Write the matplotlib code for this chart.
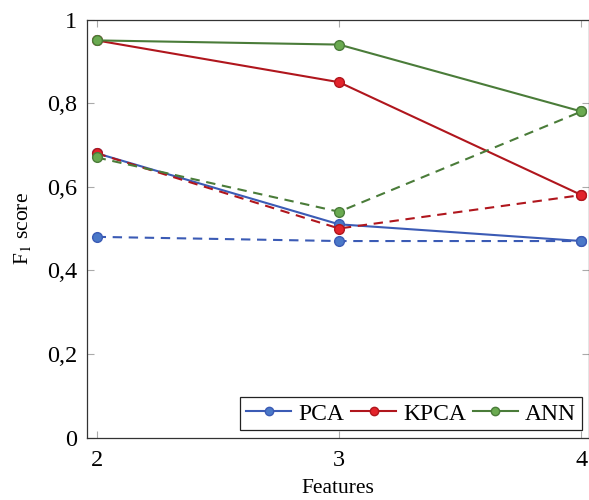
import numpy as np
import matplotlib.pyplot as plt
from matplotlib.ticker import FuncFormatter

features = [2, 3, 4]
pca_solid = [0.68, 0.51, 0.47]
pca_dashed = [0.48, 0.47, 0.47]
kpca_solid = [0.95, 0.85, 0.58]
kpca_dashed = [0.68, 0.50, 0.58]
ann_solid = [0.95, 0.94, 0.78]
ann_dashed = [0.67, 0.54, 0.78]

plt.rcParams['font.family'] = ['Liberation Serif', 'DejaVu Serif']
plt.rcParams['mathtext.fontset'] = 'stix'

# line colour, marker fill
blue = ('#3b5bb5', '#4a78c8')
red = ('#b0161d', '#e3232b')
green = ('#4a7c39', '#6aaa50')

fig = plt.figure(figsize=(5.89, 5.0), dpi=100)
ax = fig.add_axes([0.148, 0.125, 0.852, 0.836])

dash = (0, (4.5, 3.2))
for vals, (lc, mf), lab in [(pca_solid, blue, 'PCA'), (kpca_solid, red, 'KPCA'), (ann_solid, green, 'ANN')]:
    ax.plot(features, vals, color=lc, lw=1.5, marker='o', ms=7, mfc=mf, mec=lc, mew=1.0, label=lab)
for vals, (lc, mf) in [(pca_dashed, blue), (kpca_dashed, red), (ann_dashed, green)]:
    ax.plot(features, vals, color=lc, lw=1.5, ls=dash, marker='o', ms=7, mfc=mf, mec=lc, mew=1.0)

ax.set_xlim(1.961, 4.031)
ax.set_ylim(0, 1)
ax.set_xticks(features)
ax.set_yticks([0, 0.2, 0.4, 0.6, 0.8, 1.0])
ax.yaxis.set_major_formatter(FuncFormatter(lambda v, p: '0' if v == 0 else ('1' if v == 1 else ('%.1f' % v).replace('.', ','))))
ax.tick_params(direction='in', length=5, color='#aaaaaa', width=0.8, top=True, right=True, labelsize=17.5)
ax.tick_params(axis='x', pad=9)
ax.tick_params(axis='y', pad=7)
for s in ax.spines.values():
    s.set_linewidth(0.9)
    s.set_color('#333333')

ax.set_xlabel('Features', fontsize=15.5, labelpad=6)
ax.set_ylabel(r'F$_1$ score', fontsize=15.5, labelpad=10)

leg = ax.legend(loc='lower right', ncol=3, fontsize=17, frameon=True, fancybox=False,
                edgecolor='#222222', framealpha=1, handlelength=1.9, handletextpad=0.3,
                columnspacing=0.3, borderaxespad=0.3, borderpad=0.25)
leg.get_frame().set_linewidth(0.9)
for h in leg.legend_handles:
    h.set_markersize(6)

fig.savefig('out.png', dpi=100)
